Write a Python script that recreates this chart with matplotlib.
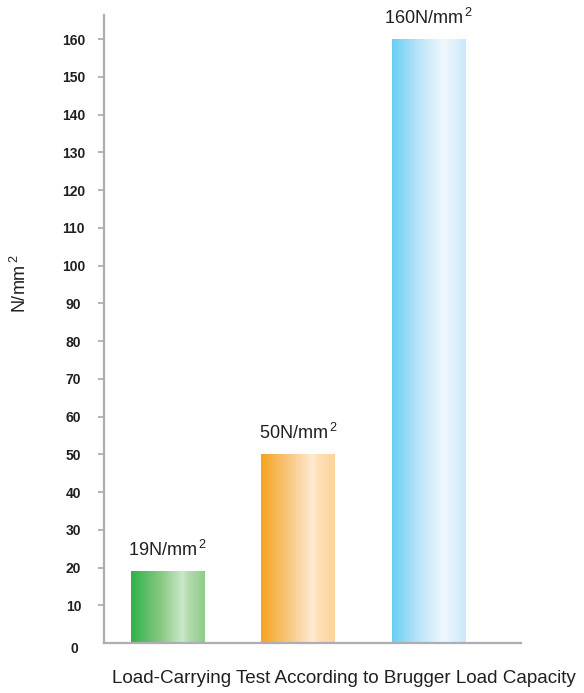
import matplotlib
matplotlib.use("Agg")
import matplotlib.pyplot as plt
import numpy as np
from matplotlib.colors import LinearSegmentedColormap

# ---- data ----
positions = [0, 1, 2]
values = [19, 50, 160]
unit = "N/mm"
y_ticks = [10, 20, 30, 40, 50, 60, 70, 80, 90, 100, 110, 120, 130, 140, 150, 160]
x_label = "Load-Carrying Test According to Brugger Load Capacity"
y_label = "N/mm"

# horizontal gradient stops for each bar
bar_gradients = [
    [(0.0, "#2fb14a"), (0.40, "#86c981"), (0.70, "#cce8c7"), (0.78, "#b3dbae"), (1.0, "#8ecb86")],
    [(0.0, "#f5a41e"), (0.40, "#f9c987"), (0.70, "#feebd3"), (0.78, "#fde0b8"), (1.0, "#fbd29a")],
    [(0.0, "#6bcef5"), (0.40, "#c2e7f9"), (0.70, "#f0f8fe"), (0.78, "#e6f4fd"), (1.0, "#c8e9fa")],
]

plt.rcParams["font.family"] = ["Liberation Sans", "DejaVu Sans"]
TEXT = "#231f20"
AXIS = "#adadb3"
SUP = r"$\mathregular{^{\,2}}$"

fig = plt.figure(figsize=(5.84, 6.93), dpi=100)
ax = fig.add_axes([104 / 584, 50 / 693, 417 / 584, 628 / 693])

bars = ax.bar(positions, values, width=0.56, color="none", edgecolor="none")

grad = np.linspace(0, 1, 256).reshape(1, -1)
for bar, stops, v in zip(bars, bar_gradients, values):
    cmap = LinearSegmentedColormap.from_list("bar", stops)
    x0 = bar.get_x()
    w = bar.get_width()
    h = bar.get_height()
    ax.imshow(grad, extent=[x0, x0 + w, 0, h], aspect="auto", cmap=cmap,
              interpolation="bilinear", zorder=2)
    ax.annotate(f"{v}{unit}" + SUP, xy=(bar.get_x() + w / 2, h),
                xytext=(0, 15), textcoords="offset pixels",
                ha="center", va="baseline", fontsize=13, color=TEXT)

ax.set_xlim(-0.487, 2.71)
ax.set_ylim(0, 166.4)

for side in ("top", "right"):
    ax.spines[side].set_visible(False)
for side in ("left", "bottom"):
    ax.spines[side].set_color(AXIS)
    ax.spines[side].set_linewidth(1.6)

ax.set_xticks([])
ax.set_yticks(y_ticks)
ax.tick_params(axis="y", length=4, width=1.3, color=AXIS, pad=18,
               labelsize=10, labelcolor=TEXT)
for lab in ax.get_yticklabels():
    lab.set_fontweight("bold")
    lab.set_ha("center")

# zero label sits just below the baseline, without a tick mark
ax.annotate("0", xy=(0, 0), xycoords=("axes fraction", "data"),
            xytext=(-30, -6), textcoords="offset pixels",
            ha="center", va="center", fontsize=10, fontweight="bold", color=TEXT)

fig.text(344 / 584, 1 - 683 / 693, x_label, ha="center", va="baseline",
         fontsize=13.6, color=TEXT)
fig.text(20 / 584, 1 - 284 / 693, y_label + SUP, rotation=90,
         ha="center", va="center", fontsize=13, color=TEXT)

fig.savefig("out.png", dpi=100)
